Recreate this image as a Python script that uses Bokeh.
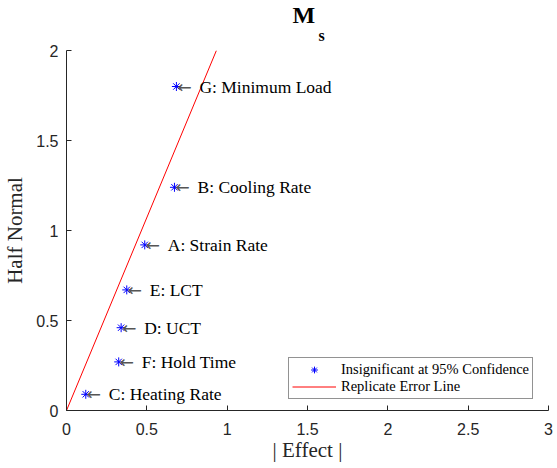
from bokeh.plotting import figure
from bokeh.models import ColumnDataSource, Range1d, Legend, LegendItem, FixedTicker, Title
from bokeh.core.properties import value
from bokeh.embed import file_html
from bokeh.resources import INLINE

# Data
factors = ["C: Heating Rate", "F: Hold Time", "D: UCT", "E: LCT", "A: Strain Rate", "B: Cooling Rate", "G: Minimum Load"]
abs_effect = [0.12, 0.325, 0.34, 0.375, 0.487, 0.672, 0.684]
half_normal = [0.09, 0.27, 0.46, 0.67, 0.92, 1.24, 1.80]
line_x = [0.0, 0.933]
line_y = [0.0, 2.0]
x_ticks = [0, 0.5, 1, 1.5, 2, 2.5, 3]
y_ticks = [0, 0.5, 1, 1.5, 2]

AX = "#262626"

p = figure(width=557, height=468, output_backend="svg", toolbar_location=None,
           x_range=Range1d(0, 3), y_range=Range1d(0, 2),
           min_border_left=66, min_border_right=9, min_border_top=50, min_border_bottom=58)
p.title.text = ""
p.title.visible = False
p.outline_line_color = None
p.xgrid.grid_line_color = None
p.ygrid.grid_line_color = None
p.background_fill_color = "white"
p.border_fill_color = "white"

for ax, ticks in ((p.xaxis[0], x_ticks), (p.yaxis[0], y_ticks)):
    ax.ticker = FixedTicker(ticks=ticks)
    ax.major_tick_in = 5
    ax.major_tick_out = 0
    ax.minor_tick_line_color = None
    ax.axis_line_color = AX
    ax.axis_line_width = 1
    ax.major_tick_line_color = AX
    ax.major_label_text_font = "Liberation Sans"
    ax.major_label_text_font_size = "16px"
    ax.major_label_text_color = AX
    ax.axis_label_text_font = "Liberation Serif"
    ax.axis_label_text_font_size = "21px"
    ax.axis_label_text_font_style = "normal"
    ax.axis_label_text_color = AX

p.xaxis.axis_label = "| Effect |"
p.yaxis.axis_label = "Half Normal"
p.xaxis.major_label_standoff = 12
p.yaxis.major_label_standoff = 8
p.xaxis.axis_label_standoff = 0
p.yaxis.axis_label_standoff = 6

src = ColumnDataSource(dict(x=abs_effect, y=half_normal, lab=factors))

line_r = p.line(line_x, line_y, line_color="#FF0000", line_width=1)
pts_r = p.scatter("x", "y", source=src, marker="asterisk", size=9,
                  line_color="#0000FF", line_width=1)
p.text("x", "y", text=value("\u2190"), source=src, text_font=value("DejaVu Sans"),
       text_font_size="17px", text_baseline="middle", text_align="left",
       x_offset=1, text_color="#555555")
p.text("x", "y", text="lab", source=src, text_font=value("Liberation Serif"),
       text_font_size="17.5px", text_baseline="middle", text_align="left",
       x_offset=23, text_color="black")

legend = Legend(items=[LegendItem(label="Insignificant at 95% Confidence", renderers=[pts_r]),
                       LegendItem(label="Replicate Error Line", renderers=[line_r])],
                location=(222, 11), padding=3, spacing=0, margin=0,
                label_height=17, glyph_height=17, glyph_width=44, label_standoff=5,
                label_text_font="Liberation Serif", label_text_font_size="14.5px",
                label_text_color="black", border_line_color=AX, border_line_width=1,
                background_fill_alpha=1.0)
p.add_layout(legend, "center")

ts = Title(text="s", align="left", offset=252, standoff=13,
           text_font="Liberation Serif", text_font_size="16px", text_font_style="bold",
           text_color="black")
tm = Title(text="M", align="left", offset=226, standoff=-19,
           text_font="Liberation Serif", text_font_size="24px", text_font_style="bold",
           text_color="black")
p.add_layout(ts, "above")
p.add_layout(tm, "above")

open("out.html", "w").write(file_html(p, INLINE))
